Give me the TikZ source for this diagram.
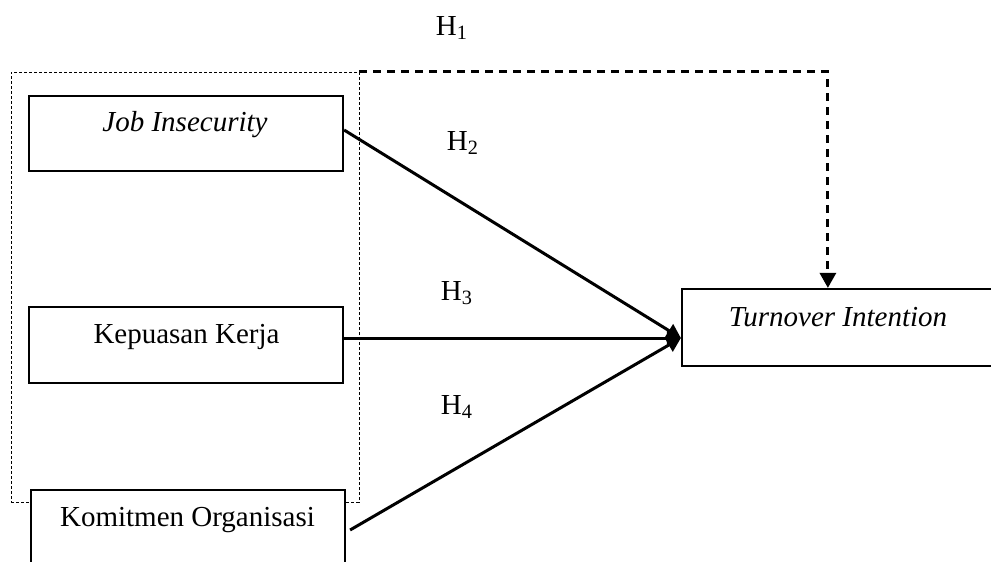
\documentclass[tikz,border=0pt]{standalone}
\usepackage{fontspec}
\setmainfont{Liberation Serif}
\usetikzlibrary{arrows.meta,calc}
\begin{document}
\begin{tikzpicture}[x=0.5pt,y=-0.5pt,
  box/.style={draw, line width=1.1pt, rectangle, inner sep=0pt, minimum width=157pt},
  txt/.style={inner sep=0pt, font=\fontsize{14.5pt}{17pt}\selectfont},
  hlab/.style={inner sep=0pt, font=\fontsize{14.5pt}{17pt}\selectfont},
  grpbox/.style={draw, line width=0.4pt, dash pattern=on 1.5pt off 1pt, rectangle, inner sep=0pt},
  conn/.style={line width=1.5pt, -{Triangle[length=7pt,width=7.5pt]}},
  dconn/.style={line width=1.5pt, dash pattern=on 4pt off 3pt, -{Triangle[length=7.5pt,width=8pt]}}]
\useasboundingbox (0,0) rectangle (991,562);
\clip (0,0) rectangle (991,562);
% group (dotted) box
\node[grpbox, minimum width=174pt, minimum height=215pt] (grp) at (185,287) {};
% boxes
\node[box, minimum height=37.5pt] (job) at (186,133.5) {};
\node[txt] (jobt) at (185,125) {\textit{Job Insecurity}};
\node[box, minimum height=38pt] (kep) at (186,345) {};
\node[txt] (kept) at (186.5,337) {Kepuasan Kerja};
\node[box, minimum height=40pt, fill=white] (kom) at (188,530) {};
\node[txt] (komt) at (187.5,520) {Komitmen Organisasi};
\node[box, minimum width=159pt, minimum height=38.5pt] (turn) at (841,327.5) {};
\node[txt] (turnt) at (838,317) {\textit{Turnover Intention}};
% connectors
\coordinate (tip) at ($(turn.west)+(0,10.5)$);
\draw[conn] ($(job.east)+(0,-3.5)$) -- (tip);
\draw[conn] ($(kep.east)+(0,-7)$) -- (tip);
\draw[conn] ($(kom.east)+(4,0)$) -- (tip);
\draw[dconn] (grp.north east) -| ($(turn.north west)+(147,0)$);
% labels
\node[hlab] (h1) at (452,28) {H\textsubscript{1}};
\node[hlab] (h2) at (463,143) {H\textsubscript{2}};
\node[hlab] (h3) at (457,293) {H\textsubscript{3}};
\node[hlab] (h4) at (457,407) {H\textsubscript{4}};
\end{tikzpicture}
\end{document}
